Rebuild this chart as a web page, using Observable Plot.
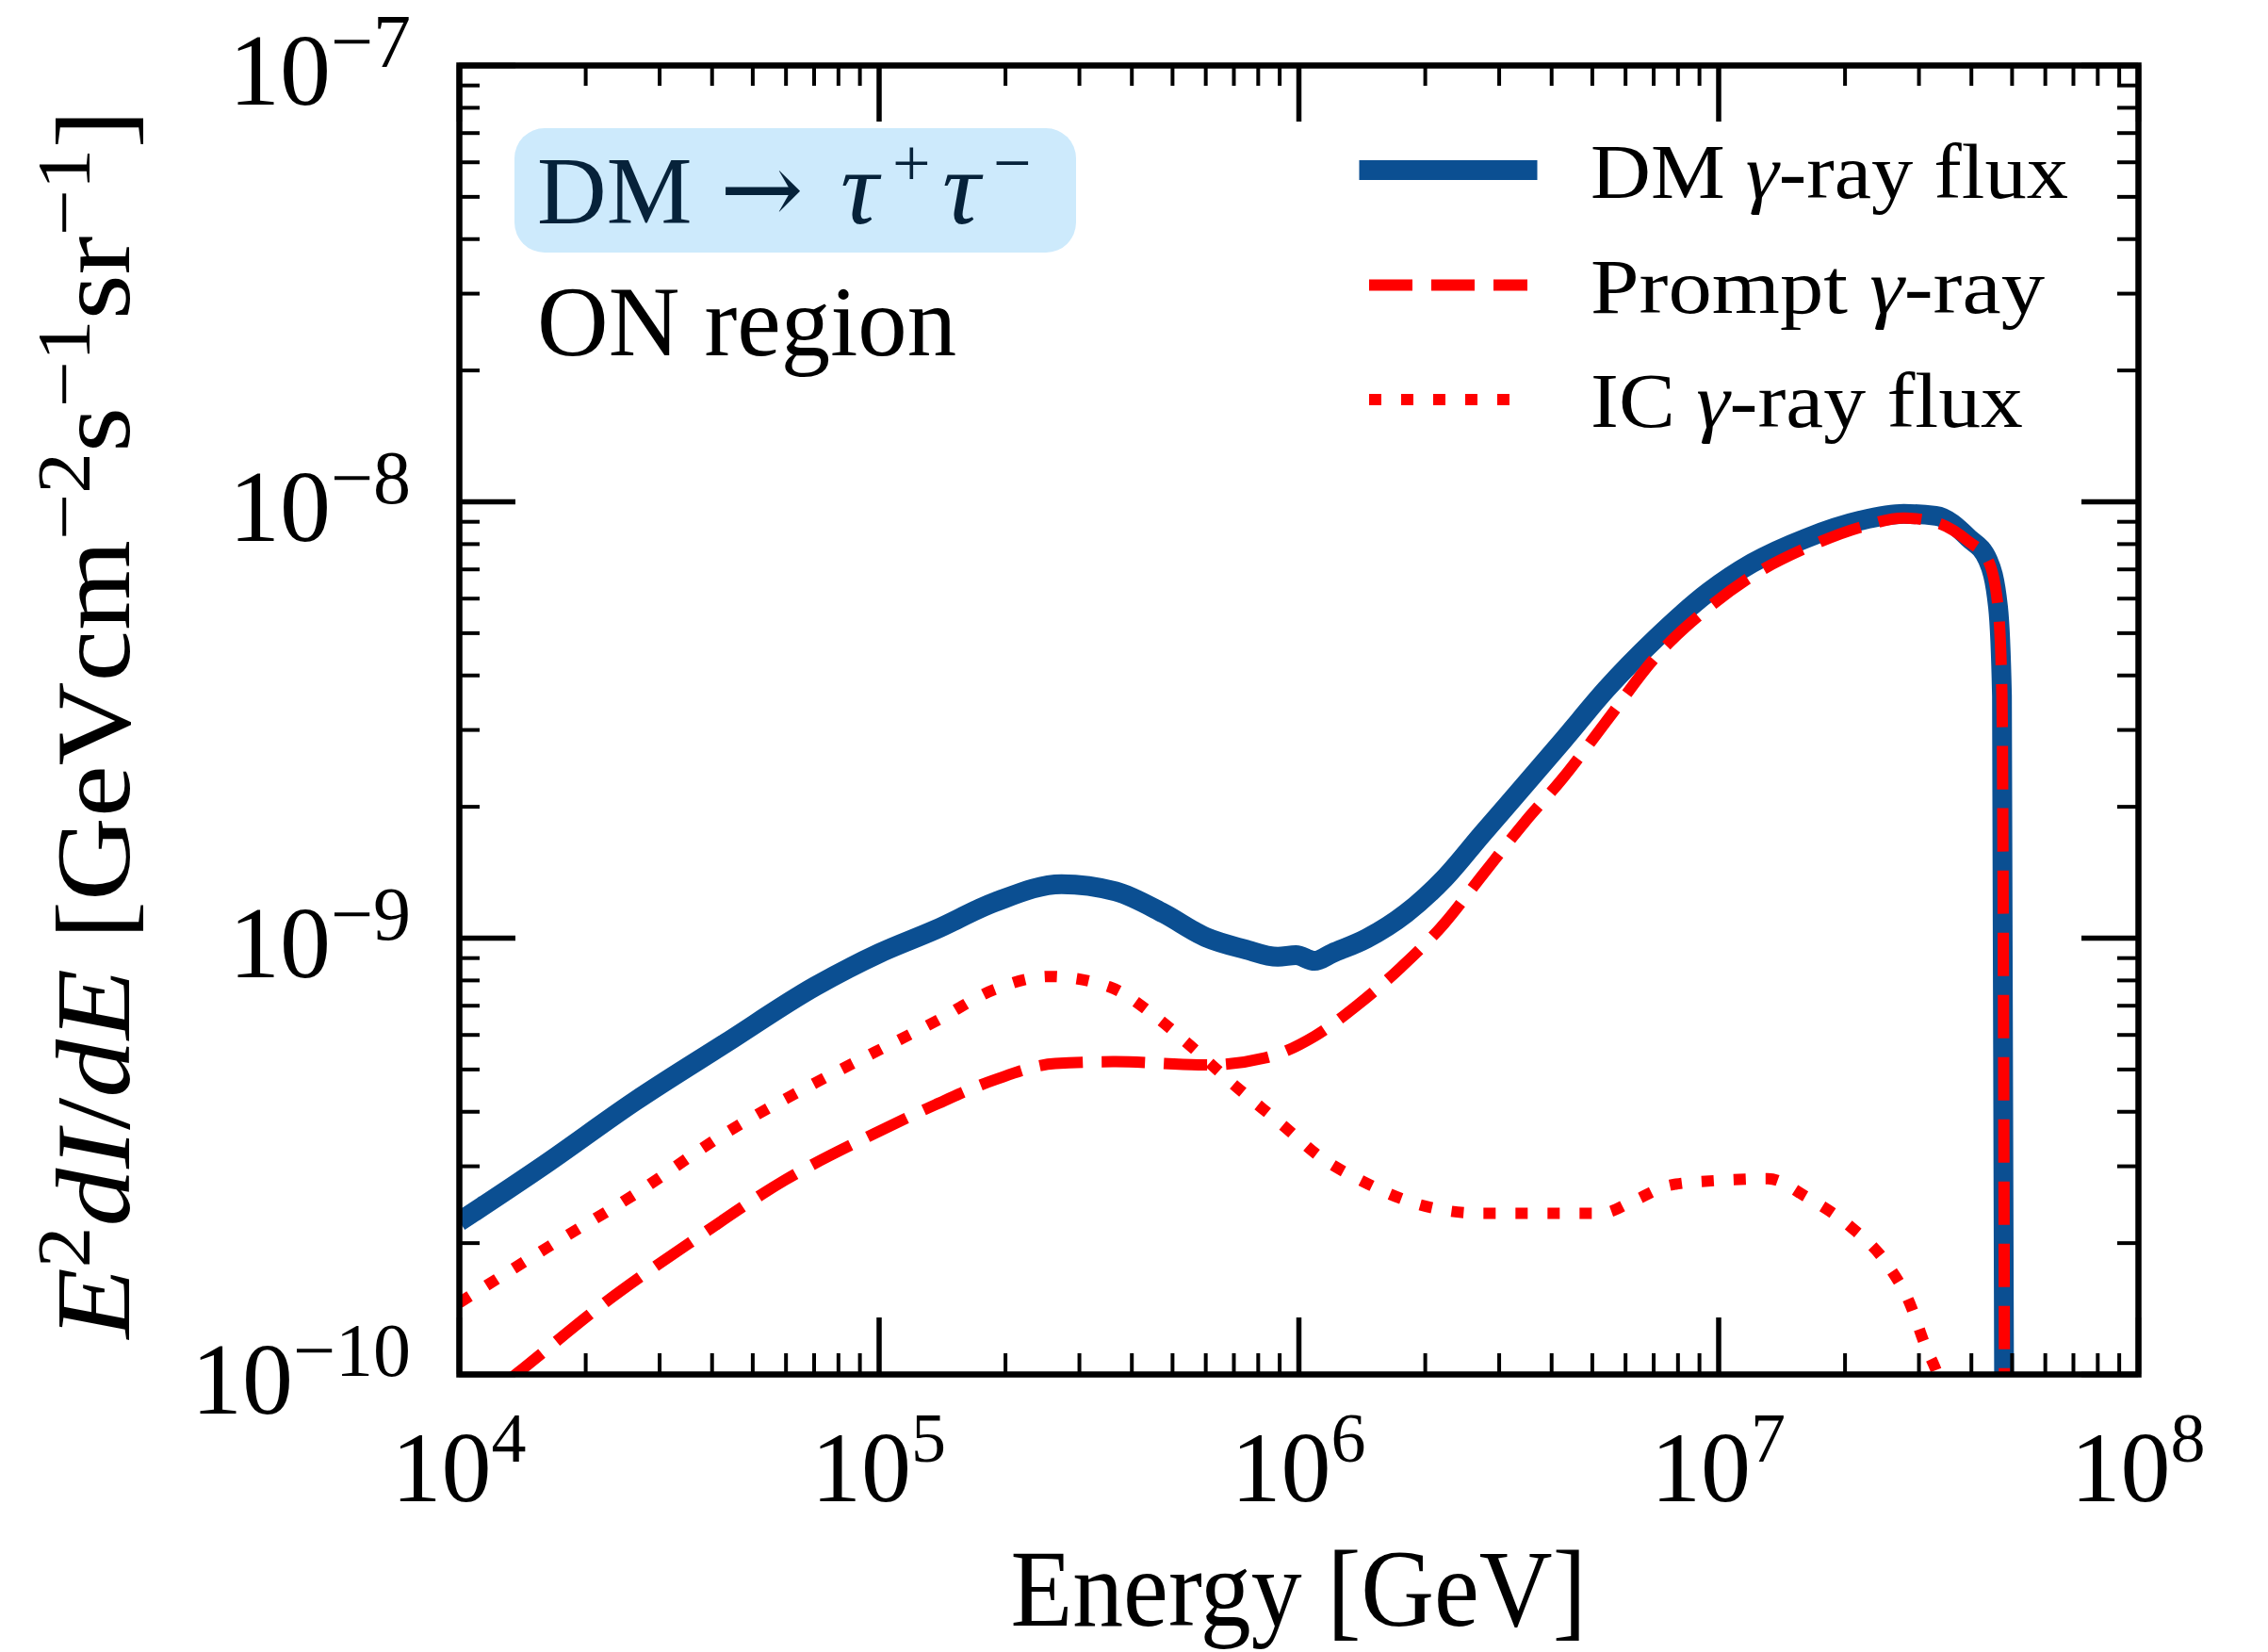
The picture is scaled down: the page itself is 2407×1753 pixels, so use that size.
<!DOCTYPE html>
<html><head><meta charset="utf-8">
<script src="https://cdn.jsdelivr.net/npm/d3@7"></script>
<script src="https://cdn.jsdelivr.net/npm/@observablehq/plot@0.6"></script>
<style>
html,body{margin:0;padding:0;background:#fff;}
#chart svg{display:block;}
</style>
</head><body><div id="chart"></div>
<script>
// ---------- data ----------
const dmEnergy = [1.00e4,1.60e4,2.62e4,4.30e4,7.05e4,1.00e5,1.36e5,1.89e5,2.72e5,3.66e5,4.76e5,6.00e5,7.41e5,8.91e5,9.84e5,1.09e6,1.20e6,1.45e6,1.80e6,2.22e6,2.73e6,3.46e6,4.26e6,5.40e6,7.05e6,9.48e6,1.20e7,1.62e7,2.18e7,2.76e7,3.29e7,3.94e7,4.38e7,4.63e7,4.73e7,4.82e7];
const dmFlux = [2.24e-10,3.03e-10,4.23e-10,5.74e-10,7.76e-10,9.23e-10,1.045e-9,1.21e-9,1.33e-9,1.28e-9,1.14e-9,1.005e-9,9.44e-10,9.06e-10,9.14e-10,8.87e-10,9.23e-10,9.98e-10,1.14e-9,1.37e-9,1.73e-9,2.25e-9,2.84e-9,3.72e-9,4.84e-9,6.22e-9,7.23e-9,8.26e-9,9.06e-9,9.38e-9,9.29e-9,8.26e-9,7.35e-9,5.73e-9,3.59e-9,1.0e-11];

const promptEnergy = [1.00e4,1.38e4,2.22e4,3.64e4,5.97e4,9.77e4,1.36e5,1.89e5,2.63e5,3.66e5,6.00e5,8.34e5,1.09e6,1.38e6,1.75e6,2.22e6,2.73e6,3.46e6,4.26e6,5.40e6,7.05e6,9.48e6,1.20e7,1.62e7,2.18e7,2.76e7,3.29e7,3.94e7,4.38e7,4.63e7,4.73e7,4.82e7];
const promptFlux = [7.9e-11,1.01e-10,1.46e-10,2.04e-10,2.79e-10,3.57e-10,4.15e-10,4.74e-10,5.16e-10,5.21e-10,5.12e-10,5.32e-10,5.96e-10,7.03e-10,8.57e-10,1.08e-9,1.39e-9,1.85e-9,2.33e-9,3.14e-9,4.39e-9,5.73e-9,6.76e-9,7.85e-9,8.75e-9,9.18e-9,8.97e-9,8.11e-9,7.35e-9,5.73e-9,3.59e-9,1.0e-11];

const icEnergy = [1.00e4,1.60e4,2.62e4,4.30e4,7.05e4,9.77e4,1.36e5,1.89e5,2.54e5,3.54e5,4.61e5,5.43e5,7.08e5,9.20e5,1.12e6,1.42e6,1.91e6,2.73e6,3.68e6,5.24e6,6.27e6,7.71e6,1.04e7,1.31e7,1.62e7,2.05e7,2.52e7,2.84e7,3.11e7,3.34e7,3.55e7];
const icFlux = [1.46e-10,1.94e-10,2.59e-10,3.57e-10,4.66e-10,5.48e-10,6.44e-10,7.64e-10,8.17e-10,7.73e-10,6.55e-10,5.74e-10,4.57e-10,3.71e-10,3.16e-10,2.77e-10,2.46e-10,2.34e-10,2.34e-10,2.34e-10,2.50e-10,2.72e-10,2.79e-10,2.81e-10,2.55e-10,2.19e-10,1.79e-10,1.47e-10,1.16e-10,9.86e-11,7.9e-11];

const seriesNames = ["DM γ-ray flux", "Prompt γ-ray", "IC γ-ray flux"];
const xMajorTicks = [1e4, 1e5, 1e6, 1e7, 1e8];
const xTickExponents = ["4", "5", "6", "7", "8"];
const yMajorTicks = [1e-10, 1e-9, 1e-8, 1e-7];
const yTickExponents = ["−10", "−9", "−8", "−7"];
const minorMultipliers = [2, 3, 4, 5, 6, 7, 8, 9];
const xMinorTicks = xMajorTicks.slice(0, -1).flatMap(d => minorMultipliers.map(m => m * d));
const yMinorTicks = yMajorTicks.slice(0, -1).flatMap(d => minorMultipliers.map(m => m * d));

// ---------- layout ----------
const W = 2407, H = 1753;
const mL = 487, mR = 138, mT = 69, mB = 295;
const innerW = W - mL - mR, innerH = H - mT - mB;
const MAJ = 60, MIN = 22;
const BLUE = "#0b4f92", RED = "#ff0000";
const FONT = "'Liberation Serif','DejaVu Serif',serif";

const toRows = (E, F) => E.map((e, i) => ({E: e, F: F[i]}));
const dm = toRows(dmEnergy, dmFlux);
const prompt = toRows(promptEnergy, promptFlux);
const ic = toRows(icEnergy, icFlux);

const plot = Plot.plot({
  width: W, height: H,
  marginLeft: mL, marginRight: mR, marginTop: mT, marginBottom: mB,
  x: {type: "log", domain: [1e4, 1e8], axis: null},
  y: {type: "log", domain: [1e-10, 1e-7], axis: null},
  style: {background: "white"},
  marks: [
    Plot.line(dm, {x: "E", y: "F", stroke: BLUE, strokeWidth: 21, curve: "monotone-x", clip: true, strokeLinejoin: "round", strokeLinecap: "butt"}),
    Plot.line(prompt, {x: "E", y: "F", stroke: RED, strokeWidth: 12, strokeDasharray: "46,20", curve: "monotone-x", clip: true, strokeLinejoin: "round", strokeLinecap: "butt"}),
    Plot.line(ic, {x: "E", y: "F", stroke: RED, strokeWidth: 12, strokeDasharray: "13,21", curve: "monotone-x", clip: true, strokeLinejoin: "round", strokeLinecap: "butt"}),
    // inward ticks on all four sides
    Plot.ruleX(xMajorTicks, {x: d => d, insetTop: innerH - MAJ, stroke: "black", strokeWidth: 5.5}),
    Plot.ruleX(xMajorTicks, {x: d => d, insetBottom: innerH - MAJ, stroke: "black", strokeWidth: 5.5}),
    Plot.ruleX(xMinorTicks, {x: d => d, insetTop: innerH - MIN, stroke: "black", strokeWidth: 4}),
    Plot.ruleX(xMinorTicks, {x: d => d, insetBottom: innerH - MIN, stroke: "black", strokeWidth: 4}),
    Plot.ruleY(yMajorTicks, {y: d => d, insetRight: innerW - MAJ, stroke: "black", strokeWidth: 5.5}),
    Plot.ruleY(yMajorTicks, {y: d => d, insetLeft: innerW - MAJ, stroke: "black", strokeWidth: 5.5}),
    Plot.ruleY(yMinorTicks, {y: d => d, insetRight: innerW - MIN, stroke: "black", strokeWidth: 4}),
    Plot.ruleY(yMinorTicks, {y: d => d, insetLeft: innerW - MIN, stroke: "black", strokeWidth: 4}),
    Plot.frame({stroke: "black", strokeWidth: 6.5})
  ]
});
document.getElementById("chart").appendChild(plot);

const svg = d3.select(plot);
const sx = v => plot.scale("x").apply(v);
const sy = v => plot.scale("y").apply(v);

// rich text helper: parts = [{t, italic, sup (px raise), size, x, family}]
function rich(parent, parts, attrs) {
  const t = parent.append("text").attr("font-family", FONT).attr("fill", "black").attr("text-anchor", "start");
  for (const [k, v] of Object.entries(attrs)) t.attr(k, v);
  let cur = 0;
  for (const p of parts) {
    const target = p.sup ? -p.sup : 0;
    const ts = t.append("tspan").text(p.t);
    if (target !== cur) { ts.attr("dy", target - cur); cur = target; }
    if (p.italic) ts.attr("font-style", "italic");
    if (p.size) ts.attr("font-size", p.size);
    if (p.x != null) ts.attr("x", p.x);
    if (p.family) ts.attr("font-family", p.family);
  }
  return t;
}

const g = svg.append("g");

// x tick labels
xMajorTicks.forEach((v, i) => {
  rich(g, [{t: "10"}, {t: xTickExponents[i], sup: 42, size: 74}],
    {x: sx(v), y: mT + innerH + 135, "text-anchor": "middle", "font-size": 106});
});
// y tick labels
yMajorTicks.forEach((v, i) => {
  rich(g, [{t: "10"}, {t: yTickExponents[i], sup: 40, size: 80}],
    {x: mL - 51, y: sy(v) + 42, "text-anchor": "end", "font-size": 108});
});

// axis labels
rich(g, [{t: "Energy [GeV]"}],
  {x: mL + innerW / 2, y: 1725, "text-anchor": "middle", "font-size": 116,
   textLength: 611, lengthAdjust: "spacingAndGlyphs"});

const SUP = 80;
rich(g, [
  {t: "E", italic: true}, {t: "2", sup: 42, size: SUP},
  {t: "dI", italic: true}, {t: "/"}, {t: "dE", italic: true},
  {t: " [GeVcm"}, {t: "−2", sup: 42, size: SUP},
  {t: "s"}, {t: "−1", sup: 42, size: SUP},
  {t: "sr"}, {t: "−1", sup: 42, size: SUP},
  {t: "]"}
], {transform: `translate(137,${mT + innerH / 2 + 5}) rotate(-90)`, "text-anchor": "middle",
    "font-size": 113, textLength: 1304, lengthAdjust: "spacingAndGlyphs"});

// annotation box
g.append("rect").attr("x", 546).attr("y", 136).attr("width", 596).attr("height", 132)
  .attr("rx", 32).attr("ry", 32).attr("fill", "#cdeafc");
rich(g, [
  {t: "DM", x: 570},
  {t: "→", x: 764, family: "'DejaVu Serif','DejaVu Sans',serif", size: 106},
  {t: "τ", italic: true, x: 892, size: 112},
  {t: "+", sup: 40, size: 72, x: 947},
  {t: "τ", italic: true, x: 1000, size: 112},
  {t: "−", sup: 40, size: 72, x: 1054}
], {x: 570, y: 237, "font-size": 102, fill: "#06223a"});
rich(g, [{t: "ON region"}], {x: 570, y: 377, "font-size": 106, textLength: 445, lengthAdjust: "spacingAndGlyphs"});

// legend
const legendRows = [
  {name: seriesNames[0], stroke: BLUE, width: 21, dash: null, cap: "square", y: 180.5, len: 507},
  {name: seriesNames[1], stroke: RED, width: 12, dash: "46,20", cap: "butt", y: 302.5, len: 482},
  {name: seriesNames[2], stroke: RED, width: 12, dash: "13,21", cap: "butt", y: 424, len: 459}
];
legendRows.forEach(r => {
  const ln = g.append("line").attr("x1", 1453).attr("x2", 1621).attr("y1", r.y).attr("y2", r.y)
    .attr("stroke", r.stroke).attr("stroke-width", r.width).attr("stroke-linecap", r.cap);
  if (r.dash) ln.attr("stroke-dasharray", r.dash);
  const parts = r.name.split("γ");
  rich(g, [{t: parts[0]}, {t: "γ", italic: true}, {t: parts[1]}],
    {x: 1688, y: r.y + 29, "font-size": 82, textLength: r.len, lengthAdjust: "spacingAndGlyphs"});
});
</script>
</body></html>
